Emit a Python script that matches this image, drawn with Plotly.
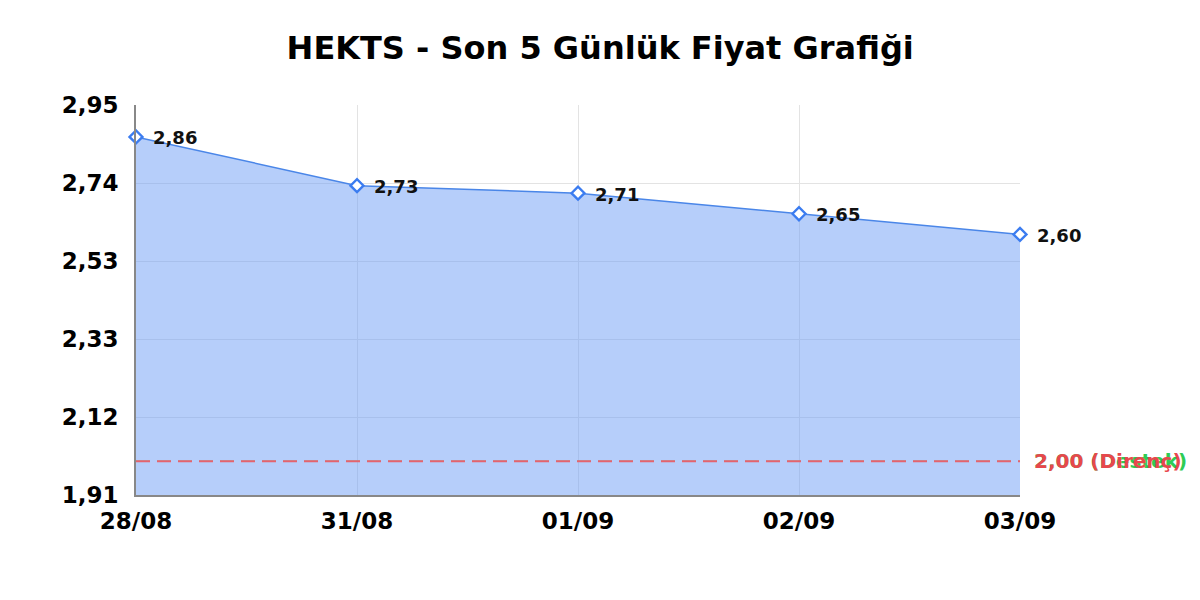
import plotly.graph_objects as go

dates = ["28/08", "31/08", "01/09", "02/09", "03/09"]
prices = [2.865, 2.735, 2.715, 2.66, 2.605]
price_labels = ["2,86", "2,73", "2,71", "2,65", "2,60"]
y_ticks = [1.91, 2.118, 2.326, 2.534, 2.742, 2.95]
y_tick_labels = ["1,91", "2,12", "2,33", "2,53", "2,74", "2,95"]
support = 2.00
resistance = 2.00
support_label = "2,00 (Destek)"
resistance_label = "2,00 (Direnç)"
title = "HEKTS - Son 5 Günlük Fiyat Grafiği"

fig = go.Figure()
fig.add_trace(go.Scatter(
    x=dates, y=prices, mode="lines+markers",
    line=dict(color="#4a86e8", width=1.5),
    marker=dict(symbol="diamond", size=10, color="white", line=dict(width=2.4, color="#3b7cf0")),
    fill="tozeroy", fillcolor="rgba(110,158,245,0.5)",
    cliponaxis=False, showlegend=False,
))

for d, p, lab in zip(dates, prices, price_labels):
    fig.add_annotation(x=d, y=p, text=lab, showarrow=False, xanchor="left", yanchor="middle",
                       xshift=15, yshift=-1,
                       font=dict(family="DejaVu Sans", size=18, color="#111111", weight="bold"))

fig.add_shape(type="line", xref="paper", x0=0, x1=1, yref="y", y0=support, y1=support,
              line=dict(color="#2ecc55", width=1, dash="14px,7px"), layer="above")
fig.add_shape(type="line", xref="paper", x0=0, x1=1, yref="y", y0=resistance, y1=resistance,
              line=dict(color="#e5636e", width=2, dash="14px,7px"), layer="above")

fig.add_annotation(xref="paper", x=1, xshift=12, y=support, yref="y", text=support_label,
                   showarrow=False, xanchor="left", yanchor="middle",
                   font=dict(family="DejaVu Sans", size=20, color="#2ecc55", weight="bold"))
fig.add_annotation(xref="paper", x=1, xshift=12, y=resistance, yref="y", text=resistance_label,
                   showarrow=False, xanchor="left", yanchor="middle",
                   font=dict(family="DejaVu Sans", size=20, color="#e8474d", weight="bold"))

fig.update_layout(
    width=1200, height=600,
    paper_bgcolor="white", plot_bgcolor="white",
    margin=dict(l=128, r=188, t=97, b=113),
    title=dict(text=title, x=0.4935, xanchor="center", y=1 - 40 / 600, yanchor="middle",
               font=dict(family="DejaVu Sans", size=32, color="black", weight="bold")),
    font=dict(family="DejaVu Sans"),
)
fig.update_xaxes(type="category", range=[0, 4], showgrid=True, gridcolor="#e3e3e3",
                 showline=True, linecolor="#888888", linewidth=2, ticks="",
                 ticklabelstandoff=4,
                 tickfont=dict(size=23, color="black", weight="bold"))
fig.update_yaxes(range=[1.91, 2.95], tickvals=y_ticks, ticktext=y_tick_labels,
                 showgrid=True, gridcolor="#e3e3e3", zeroline=False,
                 showline=True, linecolor="#888888", linewidth=2, ticks="",
                 ticklabelstandoff=11,
                 tickfont=dict(size=23, color="black", weight="bold"))

fig.write_html("out.html")
